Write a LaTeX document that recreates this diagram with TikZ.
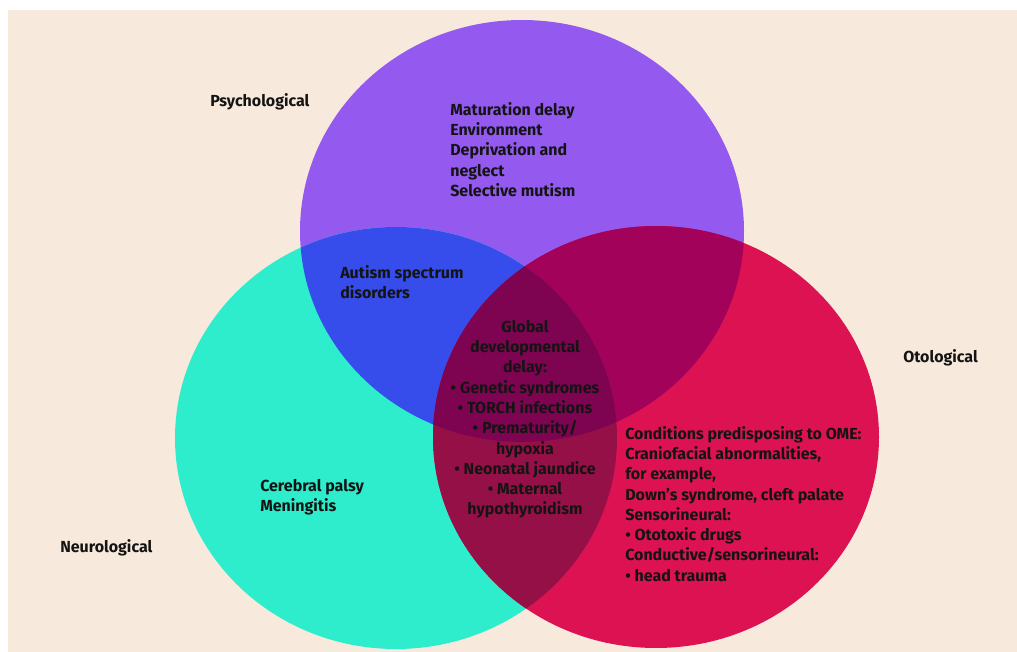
\documentclass[tikz,border=0pt]{standalone}
\usepackage{fontspec}
\setmainfont{Fira Sans}
\definecolor{bgcol}{RGB}{247,234,220}
\definecolor{psycol}{RGB}{148,90,240}
\definecolor{neucol}{RGB}{45,237,204}
\definecolor{otocol}{RGB}{220,18,82}
\definecolor{pncol}{RGB}{54,77,235}
\definecolor{pocol}{RGB}{162,2,90}
\definecolor{nocol}{RGB}{150,16,72}
\definecolor{allcol}{RGB}{126,4,82}
\tikzset{lab/.style={font=\bfseries\fontsize{12}{15.2}\selectfont,text=black!92,inner sep=0pt},
one/.style={lab,align=left,anchor=north west},
two/.style={lab,align=center,anchor=north}}
\def\psy{(522,231) ellipse [x radius=222, y radius=211]}
\def\neu{(396,438) ellipse [x radius=221, y radius=211]}
\def\oto{(656,437) ellipse [x radius=223, y radius=211]}

\begin{document}
\begin{tikzpicture}[x=0.75pt,y=-0.75pt]
\useasboundingbox (0,0) rectangle (1017,652);
\fill[bgcol] (8,10) rectangle (1017,652);

\fill[psycol] \psy;
\fill[neucol] \neu;
\fill[otocol] \oto;
\begin{scope}
\clip \psy;
\fill[pncol] \neu;
\fill[pocol] \oto;
\end{scope}
\begin{scope}
\clip \neu;
\fill[nocol] \oto;
\clip \psy;
\fill[allcol] \oto;
\end{scope}

\node[lab,anchor=base west] (a) at (210,107) {Psychological};
\node[lab,anchor=base west] (b) at (903,362) {Otological};
\node[lab,anchor=base west] (c) at (60,552) {Neurological};

\node[one] (d) at (450,102) {Maturation delay\\ Environment\\ Deprivation and\\ neglect\\ Selective mutism};
\node[one] (e) at (340,265) {Autism spectrum\\ disorders};
\node[two] (f) at (525,320) {Global\\ developmental\\ delay:\\ \textbullet\ Genetic syndromes\\ \textbullet\ TORCH infections\\ \textbullet\ Prematurity/\\ hypoxia\\ \textbullet\ Neonatal jaundice\\ \textbullet\ Maternal\\ hypothyroidism};
\node[one] (g) at (625,426) {Conditions predisposing to OME:\\ Craniofacial abnormalities,\\ for example,\\ Down’s syndrome, cleft palate\\ Sensorineural:\\ \textbullet\ Ototoxic drugs\\ Conductive/sensorineural:\\ \textbullet\ head trauma};
\node[one] (h) at (260,479) {Cerebral palsy\\ Meningitis};
\end{tikzpicture}
\end{document}
